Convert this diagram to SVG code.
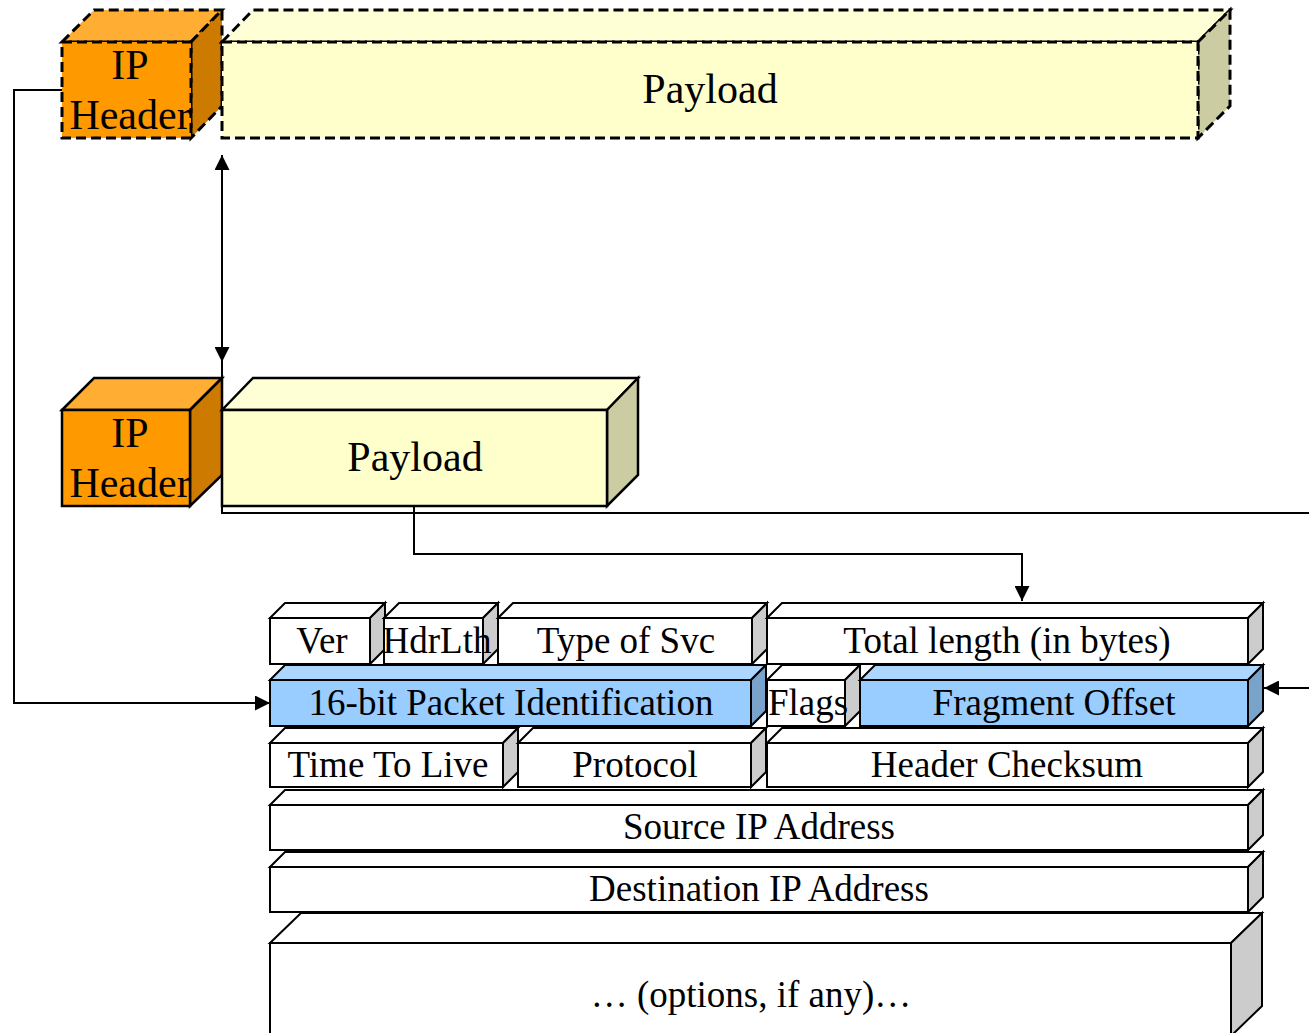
<svg xmlns="http://www.w3.org/2000/svg" width="1309" height="1033" viewBox="0 0 1309 1033">
  <style>
    .lbl { font-family: "Liberation Serif", "Times New Roman", serif; fill: #000; text-anchor: middle; }
    .big { font-size: 42px; }
    .fld { font-size: 37px; }
    .solid { stroke: #000; stroke-width: 2.5; stroke-linejoin: miter; }
    .dash { stroke: #000; stroke-width: 3; stroke-dasharray: 10 5; }
    .cell { stroke: #000; stroke-width: 2; stroke-linejoin: miter; }
    .org-f { fill: #FF9900; } .org-t { fill: #FFAD33; } .org-s { fill: #CC7A00; }
    .yel-f { fill: #FFFFCC; } .yel-t { fill: #FFFFD6; } .yel-s { fill: #CCCCA3; }
    .wht-f { fill: #FFFFFF; } .wht-t { fill: #FFFFFF; } .wht-s { fill: #CCCCCC; }
    .blu-f { fill: #99CCFF; } .blu-t { fill: #ADD6FF; } .blu-s { fill: #7AA3CC; }
    .wire { fill: none; stroke: #000; stroke-width: 2; }
  </style>
  <defs>
    <marker id="arrow" viewBox="0 0 15 15" refX="15" refY="7.5" markerWidth="15" markerHeight="15" markerUnits="userSpaceOnUse" orient="auto-start-reverse">
      <path d="M0,0 L15,7.5 L0,15 z" fill="#000"/>
    </marker>
  </defs>

  <!-- original datagram (dashed outline) -->
  <g id="orig-header">
    <polygon class="org-t dash" points="62,42 94,10 222,10 191,42"/>
    <polygon class="org-s dash" points="191,42 222,10 222,106 191,138"/>
    <rect class="org-f dash" x="62" y="42" width="129" height="96"/>
    <text class="lbl big" x="130" y="79">IP</text>
    <text class="lbl big" x="130" y="129">Header</text>
  </g>
  <g id="orig-payload">
    <polygon class="yel-t dash" points="222,42 253,10 1230,10 1198,42"/>
    <polygon class="yel-s dash" points="1198,42 1230,10 1230,106 1198,138"/>
    <rect class="yel-f dash" x="222" y="42" width="976" height="96"/>
    <text class="lbl big" x="710" y="103">Payload</text>
  </g>

  <!-- fragment -->
  <g id="frag-header">
    <polygon class="org-t solid" points="62,410 94,378 222,378 190,410"/>
    <polygon class="org-s solid" points="190,410 222,378 222,475 190,506"/>
    <rect class="org-f solid" x="62" y="410" width="128" height="96"/>
    <text class="lbl big" x="130" y="447">IP</text>
    <text class="lbl big" x="130" y="497">Header</text>
  </g>
  <g id="frag-payload">
    <polygon class="yel-t solid" points="222,410 253,378 638,378 607,410"/>
    <polygon class="yel-s solid" points="607,410 638,378 638,475 607,506"/>
    <rect class="yel-f solid" x="222" y="410" width="385" height="96"/>
    <text class="lbl big" x="415" y="471">Payload</text>
  </g>

  <!-- IP header fields, row 1 -->
  <g id="f-ver">
    <polygon class="wht-t cell" points="270,618 285,603 385,603 370,618"/>
    <polygon class="wht-s cell" points="370,618 385,603 385,649 370,664"/>
    <rect class="wht-f cell" x="270" y="618" width="100" height="46"/>
    <text class="lbl fld" x="322" y="653">Ver</text>
  </g>
  <g id="f-hdrlth">
    <polygon class="wht-t cell" points="384,618 399,603 498,603 483,618"/>
    <polygon class="wht-s cell" points="483,618 498,603 498,649 483,664"/>
    <rect class="wht-f cell" x="384" y="618" width="99" height="46"/>
    <text class="lbl fld" x="437" y="653">HdrLth</text>
  </g>
  <g id="f-tos">
    <polygon class="wht-t cell" points="498,618 513,603 767,603 752,618"/>
    <polygon class="wht-s cell" points="752,618 767,603 767,649 752,664"/>
    <rect class="wht-f cell" x="498" y="618" width="254" height="46"/>
    <text class="lbl fld" x="626" y="653">Type of Svc</text>
  </g>
  <g id="f-totlen">
    <polygon class="wht-t cell" points="767,618 782,603 1263,603 1248,618"/>
    <polygon class="wht-s cell" points="1248,618 1263,603 1263,649 1248,664"/>
    <rect class="wht-f cell" x="767" y="618" width="481" height="46"/>
    <text class="lbl fld" x="1007" y="653">Total length (in bytes)</text>
  </g>

  <!-- row 2 -->
  <g id="f-ident">
    <polygon class="blu-t cell" points="270,680 285,665 766,665 751,680"/>
    <polygon class="blu-s cell" points="751,680 766,665 766,711 751,726"/>
    <rect class="blu-f cell" x="270" y="680" width="481" height="46"/>
    <text class="lbl fld" x="511" y="715">16-bit Packet Identification</text>
  </g>
  <g id="f-flags">
    <polygon class="wht-t cell" points="767,680 782,665 860,665 845,680"/>
    <polygon class="wht-s cell" points="845,680 860,665 860,711 845,726"/>
    <rect class="wht-f cell" x="767" y="680" width="78" height="46"/>
    <text class="lbl fld" x="808" y="715">Flags</text>
  </g>
  <g id="f-fragoff">
    <polygon class="blu-t cell" points="860,680 875,665 1263,665 1248,680"/>
    <polygon class="blu-s cell" points="1248,680 1263,665 1263,711 1248,726"/>
    <rect class="blu-f cell" x="860" y="680" width="388" height="46"/>
    <text class="lbl fld" x="1054" y="715">Fragment Offset</text>
  </g>

  <!-- row 3 -->
  <g id="f-ttl">
    <polygon class="wht-t cell" points="270,743 285,728 518,728 503,743"/>
    <polygon class="wht-s cell" points="503,743 518,728 518,772 503,787"/>
    <rect class="wht-f cell" x="270" y="743" width="233" height="44"/>
    <text class="lbl fld" x="388" y="777">Time To Live</text>
  </g>
  <g id="f-proto">
    <polygon class="wht-t cell" points="518,743 533,728 766,728 751,743"/>
    <polygon class="wht-s cell" points="751,743 766,728 766,772 751,787"/>
    <rect class="wht-f cell" x="518" y="743" width="233" height="44"/>
    <text class="lbl fld" x="635" y="777">Protocol</text>
  </g>
  <g id="f-cksum">
    <polygon class="wht-t cell" points="767,743 782,728 1263,728 1248,743"/>
    <polygon class="wht-s cell" points="1248,743 1263,728 1263,772 1248,787"/>
    <rect class="wht-f cell" x="767" y="743" width="481" height="44"/>
    <text class="lbl fld" x="1007" y="777">Header Checksum</text>
  </g>

  <!-- rows 4-6 -->
  <g id="f-src">
    <polygon class="wht-t cell" points="270,805 285,790 1263,790 1248,805"/>
    <polygon class="wht-s cell" points="1248,805 1263,790 1263,835 1248,850"/>
    <rect class="wht-f cell" x="270" y="805" width="978" height="45"/>
    <text class="lbl fld" x="759" y="839">Source IP Address</text>
  </g>
  <g id="f-dst">
    <polygon class="wht-t cell" points="270,867 285,852 1263,852 1248,867"/>
    <polygon class="wht-s cell" points="1248,867 1263,852 1263,897 1248,912"/>
    <rect class="wht-f cell" x="270" y="867" width="978" height="45"/>
    <text class="lbl fld" x="759" y="901">Destination IP Address</text>
  </g>
  <g id="f-opts">
    <polygon class="wht-t cell" points="270,943 301,913 1262,913 1231,943"/>
    <polygon class="wht-s cell" points="1231,943 1262,913 1262,1006 1231,1036"/>
    <rect class="wht-f cell" x="270" y="943" width="961" height="93"/>
    <text class="lbl fld" x="751" y="1007">… (options, if any)…</text>
  </g>

  <!-- connectors -->
  <g id="connectors">
    <path class="wire" d="M62,90 H14 V703 H270" marker-end="url(#arrow)"/>
    <path class="wire" d="M222,155 V362" marker-start="url(#arrow)" marker-end="url(#arrow)"/>
    <path class="wire" d="M222,362 V378"/>
    <path class="wire" d="M222,506 V513 H1330 V688 H1264" marker-end="url(#arrow)"/>
    <path class="wire" d="M414,506 V554 H1022 V601" marker-end="url(#arrow)"/>
  </g>
</svg>
